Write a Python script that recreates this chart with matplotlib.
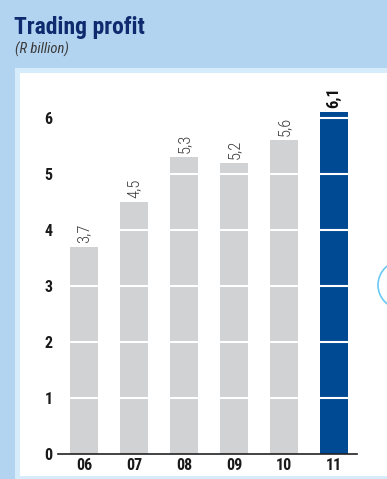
import matplotlib
matplotlib.use("Agg")
import matplotlib.pyplot as plt
from matplotlib import font_manager
from matplotlib.patches import Rectangle, Ellipse

years = ["06", "07", "08", "09", "10", "11"]
values = [3.7, 4.5, 5.3, 5.2, 5.6, 6.1]
value_labels = ["3,7", "4,5", "5,3", "5,2", "5,6", "6,1"]
yticks = [0, 1, 2, 3, 4, 5, 6]

W, H = 387, 479
fig = plt.figure(figsize=(W / 100, H / 100), dpi=100)
fig.patch.set_facecolor("#b3d4f0")

candidates = [("Liberation Sans Narrow", "normal"), ("Roboto Condensed", "normal"),
              ("Noto Sans", "condensed"), ("Noto Sans Condensed", "normal"),
              ("Open Sans", "condensed"), ("Open Sans Condensed", "normal"),
              ("DejaVu Sans", "condensed")]
fam, stretch, scale = ["Liberation Sans", "DejaVu Sans"], "normal", 0.88
for f, st in candidates:
    try:
        p = font_manager.findfont(font_manager.FontProperties(family=f, stretch=st, weight="bold"),
                                  fallback_to_default=False)
    except Exception:
        continue
    if "Narrow" in p or "Condensed" in p or "Cond" in p:
        fam, stretch, scale = [f, "DejaVu Sans"], st, 1.0
        break


def T(**kw):
    kw.setdefault("family", fam)
    kw.setdefault("fontstretch", stretch)
    return kw


def px_rect(x0, y0, x1, y1, color, z=0):
    fig.patches.append(Rectangle((x0 / W, 1 - y1 / H), (x1 - x0) / W, (y1 - y0) / H,
                                 transform=fig.transFigure, facecolor=color,
                                 edgecolor="none", zorder=z))

px_rect(15, 68, W, 479, "#d6ecfb", 0)
px_rect(20, 73, W, 476, "white", 1)
fig.patches.append(Ellipse((402 / W, 1 - 285 / H), 48 / W, 48 / H, transform=fig.transFigure,
                           facecolor="none", edgecolor="#6cc8f5", lw=1.2, zorder=2))

fig.text(14 / W, 1 - 34 / H, "Trading profit",
         **T(fontsize=17 * scale, fontweight="bold", color="#0d2b6e", va="baseline", ha="left"))
fig.text(15 / W, 1 - 54 / H, "(R billion)",
         **T(fontsize=10.5 * scale, style="italic", color="#3a3a3a", va="baseline", ha="left"))

ax = fig.add_axes([58 / W, 25 / H, 299 / W, 364 / H])
ax.set_facecolor("none")
ax.set_zorder(3)
x = list(range(len(years)))
colors = ["#d1d2d4"] * (len(years) - 1) + ["#004a93"]
ax.bar(x, values, width=0.56, color=colors, zorder=2)
for y in yticks[1:]:
    ax.axhline(y, color="white", lw=1.5, zorder=3)

for i, (v, lab) in enumerate(zip(values, value_labels)):
    last = i == len(values) - 1
    ax.text(i, v + 0.07, lab,
            **T(rotation=90, ha="center", va="bottom", fontsize=12 * scale,
                color="#111111" if last else "#3c3c3c",
                fontweight="bold" if last else "light", clip_on=False))

ax.set_xlim(-0.52, 5.46)
ax.set_ylim(0, 6.5)
ax.set_yticks(yticks)
ax.set_xticks(x)
ax.set_xticklabels(years)
for s in ["top", "right", "left"]:
    ax.spines[s].set_visible(False)
ax.spines["bottom"].set_color("#222222")
ax.spines["bottom"].set_linewidth(1.2)
ax.spines["bottom"].set_zorder(4)
ax.tick_params(axis="both", length=0)
ax.tick_params(axis="y", pad=4)
ax.tick_params(axis="x", pad=3)
for t in ax.get_yticklabels() + ax.get_xticklabels():
    t.set_fontsize(11.5 * scale)
    t.set_family(fam)
    t.set_stretch(stretch)
    t.set_color("#1a1a1a")
    t.set_fontweight("bold")

fig.savefig("out.png", dpi=100, facecolor=fig.get_facecolor())
